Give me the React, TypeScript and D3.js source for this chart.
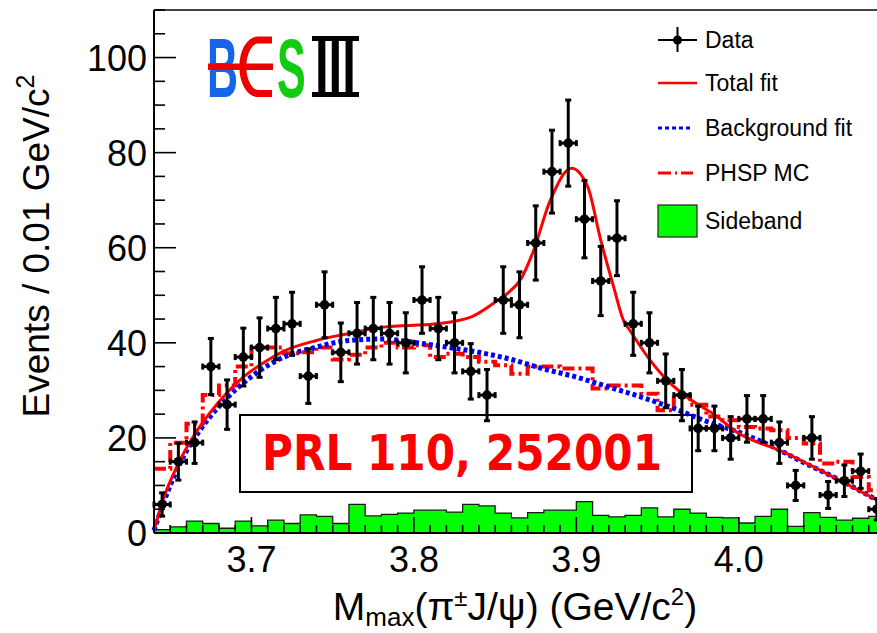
import React from "react";
import * as d3 from "d3";

// ---- data ----
const massBins = [
  3.645, 3.655, 3.665, 3.675, 3.685, 3.695, 3.705, 3.715, 3.725, 3.735,
  3.745, 3.755, 3.765, 3.775, 3.785, 3.795, 3.805, 3.815, 3.825, 3.835,
  3.845, 3.855, 3.865, 3.875, 3.885, 3.895, 3.905, 3.915, 3.925, 3.935,
  3.945, 3.955, 3.965, 3.975, 3.985, 3.995, 4.005, 4.015, 4.025, 4.035,
  4.045, 4.055, 4.065, 4.075, 4.085,
];
const binWidth = 0.01;
const dataCounts = [
  6, 15, 19, 35, 27, 37, 39, 43, 44, 33,
  48, 38, 42, 43, 42, 40, 49, 43, 40, 34,
  29, 49, 48, 61, 76, 82, 66, 53, 62, 44,
  40, 32, 29, 22, 22, 20, 24, 24, 19, 10,
  20, 8, 11, 13, 5,
];
const phspCounts = [
  13.5, 19, 23, 29, 31, 35, 39, 39, 37.8, 38,
  39, 36.5, 37.5, 39, 40, 39, 39.5, 37, 37.7, 37,
  36, 35.3, 33.5, 35, 35, 34.6, 34.6, 30.4, 31, 31,
  29.3, 25.8, 29, 27, 24.5, 23.7, 22.3, 22, 21.6, 20,
  18.8, 14.6, 15, 11.8, 9,
];
const sidebandCounts = [
  0.7, 1.3, 2.5, 2, 1, 2.5, 1.5, 2.7, 2, 3.8,
  3.5, 2, 6, 3.6, 3.9, 4.2, 4.8, 4.8, 4.4, 6,
  5.7, 4.2, 3.2, 4.3, 4.8, 4.8, 6.6, 3.7, 3.4, 3.7,
  5.3, 3.4, 5, 4.2, 3.3, 3.2, 2.1, 3.5, 5, 1.4,
  4.3, 3.3, 2.7, 3.1, 3.5,
];
const totalFitX = [
  3.64, 3.6455, 3.655, 3.664, 3.679, 3.695, 3.707, 3.719, 3.74, 3.756,
  3.781, 3.814, 3.835, 3.849, 3.858, 3.866, 3.873, 3.884, 3.897, 3.907,
  3.915, 3.923, 3.929, 3.933, 3.944, 3.956, 3.968, 3.987, 3.997, 4.027,
  4.058, 4.09,
];
const totalFitY = [
  0.5, 6.9, 14.6, 20.2, 27.2, 32.8, 35.7, 38.1, 40.5, 41.7,
  43.3, 44, 45.4, 48.3, 50.5, 53.5, 58.8, 70, 76.7, 72.8,
  61.6, 51.7, 44.7, 42.6, 37, 32.1, 28.6, 24.4, 21.6, 17.1,
  11.8, 6,
];
const bkgFitX = [
  3.64, 3.6455, 3.658, 3.668, 3.68, 3.7, 3.72, 3.74, 3.76, 3.78,
  3.8, 3.82, 3.84, 3.86, 3.88, 3.9, 3.92, 3.94, 3.96, 3.98,
  4.0, 4.02, 4.04, 4.06, 4.09,
];
const bkgFitY = [
  0.5, 6, 16, 21.5, 26.6, 32.9, 37, 39.1, 40.5, 40.8,
  40.1, 39.1, 38, 36.5, 34.5, 32.8, 30.7, 28.6, 26.2, 23.5,
  21.2, 18.3, 14.8, 11.5, 6,
];
const yTicks = [0, 20, 40, 60, 80, 100];
const xTicks = [3.7, 3.8, 3.9, 4.0];
const legendLabels = ["Data", "Total fit", "Background fit", "PHSP MC", "Sideband"];
const stampText = "PRL 110, 252001";

const W = 877;
const H = 633;
const FONT = "'Liberation Sans', Arial, Helvetica, sans-serif";

export default function App() {
  const x = d3.scaleLinear().domain([3.64, 4.09]).range([154, 885]);
  const y = d3.scaleLinear().domain([0, 110]).range([533, 10]);
  const x0 = x(3.64);
  const y0 = y(0);

  const lineLin = d3.line<[number, number]>().x((d) => x(d[0])).y((d) => y(d[1]));
  const smooth = d3
    .line<[number, number]>()
    .x((d) => x(d[0]))
    .y((d) => y(d[1]))
    .curve(d3.curveMonotoneX);

  const stepPts = (vals: number[]) => {
    const pts: [number, number][] = [];
    vals.forEach((v, i) => {
      pts.push([massBins[i] - binWidth / 2, v]);
      pts.push([massBins[i] + binWidth / 2, v]);
    });
    return pts;
  };

  const sbPts = stepPts(sidebandCounts);
  const sbArea = d3
    .area<[number, number]>()
    .x((d) => x(d[0]))
    .y0(y0)
    .y1((d) => y(d[1]));

  const totalPath = smooth(totalFitX.map((v, i) => [v, totalFitY[i]] as [number, number]));
  const bkgPath = smooth(bkgFitX.map((v, i) => [v, bkgFitY[i]] as [number, number]));
  const phspPath = lineLin(stepPts(phspCounts));

  const xMinor = d3.range(0, 46).map((i) => 3.64 + i * 0.01);
  const yMinor = d3.range(0, 23).map((i) => i * 5);

  const legX1 = 658;
  const legX2 = 697;
  const legTextX = 705;
  const legY = [40, 83, 128, 173, 221];
  const logoFont = "'Liberation Sans', Arial, sans-serif";

  return (
    <svg
      width={W}
      height={H}
      style={{ position: "absolute", left: 0, top: 0, background: "#fff" }}
      fontFamily={FONT}
    >
      <rect x={0} y={0} width={W} height={H} fill="#fff" />

      {/* stamp box */}
      <rect x={240} y={415} width={452} height={77} fill="#fff" stroke="#000" strokeWidth={2} />
      <text
        x={262}
        y={470}
        fontFamily="'DejaVu Sans', sans-serif"
        fontWeight="bold"
        fontSize={50}
        fill="#ff0000"
        textLength={400}
        lengthAdjust="spacingAndGlyphs"
      >
        {stampText}
      </text>

      {/* sideband histogram */}
      <path d={sbArea(sbPts) || ""} fill="#00ff00" stroke="none" />
      <path d={lineLin(sbPts) || ""} fill="none" stroke="#1a1a1a" strokeWidth={1.3} />

      {/* curves */}
      <path d={phspPath || ""} fill="none" stroke="#ff0000" strokeWidth={4} strokeDasharray="12,4,3,4" />
      <path d={bkgPath || ""} fill="none" stroke="#0000ff" strokeWidth={5} strokeDasharray="4,3" />
      <path d={totalPath || ""} fill="none" stroke="#ff0000" strokeWidth={3} />

      {/* data points */}
      <g stroke="#000" strokeWidth={3}>
        {massBins.map((m, i) => {
          const v = dataCounts[i];
          const e = Math.sqrt(v);
          const cx = x(m);
          const cy = y(v);
          const yt = y(v + e);
          const yb = y(Math.max(0, v - e));
          const xl = x(m - binWidth / 2);
          const xr = x(m + binWidth / 2);
          return (
            <g key={i}>
              <line x1={cx} x2={cx} y1={yt} y2={yb} />
              <line x1={cx - 3} x2={cx + 3} y1={yt} y2={yt} />
              <line x1={cx - 3} x2={cx + 3} y1={yb} y2={yb} />
              <line x1={xl} x2={xr} y1={cy} y2={cy} />
              <line x1={xl} x2={xl} y1={cy - 3} y2={cy + 3} />
              <line x1={xr} x2={xr} y1={cy - 3} y2={cy + 3} />
              <circle cx={cx} cy={cy} r={4.8} fill="#000" stroke="none" />
            </g>
          );
        })}
      </g>

      {/* frame and axes */}
      <g stroke="#000" strokeWidth={2} fill="none">
        <line x1={x0} x2={x0} y1={y(110)} y2={y0} />
        <line x1={x0} x2={W} y1={y0} y2={y0} />
        <line x1={x0} x2={W} y1={y(110)} y2={y(110)} stroke="#444" />
      </g>
      <g stroke="#000" strokeWidth={1.6}>
        {yMinor.map((v) => (
          <line key={"ym" + v} x1={x0} x2={x0 + (v % 20 === 0 ? 22 : 11)} y1={y(v)} y2={y(v)} />
        ))}
        {xMinor.map((v, i) => {
          const major = xTicks.some((t) => Math.abs(t - v) < 1e-6);
          return <line key={"xm" + i} x1={x(v)} x2={x(v)} y1={y0} y2={y0 - (major ? 16 : 8)} />;
        })}
      </g>

      {/* tick labels */}
      <g fontSize={36} fill="#000">
        {yTicks.map((v) => (
          <text key={"yl" + v} x={147} y={y(v) + 13} textAnchor="end">
            {v}
          </text>
        ))}
        {xTicks.map((v) => (
          <text key={"xl" + v} x={x(v)} y={572} textAnchor="middle">
            {v.toFixed(1)}
          </text>
        ))}
      </g>

      {/* axis titles */}
      <text
        transform={`translate(49,246) rotate(-90)`}
        textAnchor="middle"
        fontSize={37}
        fill="#000"
      >
        Events / 0.01 GeV/c<tspan dy={-15} fontSize={25}>2</tspan>
      </text>
      <text x={515} y={620} textAnchor="middle" fontSize={39} fill="#000">
        M<tspan dy={6} fontSize={26}>max</tspan>
        <tspan dy={-6}>(π</tspan>
        <tspan dy={-14} fontSize={24}>±</tspan>
        <tspan dy={14}>J/ψ) (GeV/c</tspan>
        <tspan dy={-15} fontSize={24}>2</tspan>
        <tspan dy={15}>)</tspan>
      </text>

      {/* BESIII logo */}
      <g fontFamily={logoFont} fontWeight="bold">
        <path
          d="M272,40 L258,40 A15,26.5 0 0 0 258,93.5 L272,93.5"
          fill="none"
          stroke="#ee0000"
          strokeWidth={7}
        />
        <text transform="translate(207,97) scale(1,1.95)" fontSize={43} fill="#1565e6">
          B
        </text>
        <text transform="translate(277,97) scale(1,1.95)" fontSize={43} fill="#11cc11">
          S
        </text>
        <text transform="translate(315,97) scale(1,1.72)" fontSize={49} fill="#000">
          III
        </text>
        <line x1={208} x2={273} y1={66.7} y2={66.7} stroke="#ee0000" strokeWidth={6.5} />
        <rect x={312} y={36} width={47} height={5} fill="#000" />
        <rect x={312} y={92} width={47} height={5} fill="#000" />
      </g>

      {/* legend */}
      <g>
        <line x1={legX1} x2={legX2} y1={legY[0]} y2={legY[0]} stroke="#000" strokeWidth={2} />
        <line x1={(legX1 + legX2) / 2} x2={(legX1 + legX2) / 2} y1={legY[0] - 13} y2={legY[0] + 12} stroke="#000" strokeWidth={2} />
        <circle cx={(legX1 + legX2) / 2} cy={legY[0]} r={4.5} fill="#000" />
        <line x1={legX1} x2={legX2} y1={legY[1]} y2={legY[1]} stroke="#ff0000" strokeWidth={2.5} />
        <line x1={legX1} x2={legX2 - 4} y1={legY[2]} y2={legY[2]} stroke="#0000ff" strokeWidth={3} strokeDasharray="4,3" />
        <line x1={legX1} x2={legX2 - 4} y1={legY[3]} y2={legY[3]} stroke="#ff0000" strokeWidth={3} strokeDasharray="13,4,2,4" />
        <rect x={658} y={205} width={39} height={32} fill="#00ff00" stroke="#222" strokeWidth={1.2} />
        {legendLabels.map((t, i) => (
          <text key={t} x={legTextX} y={legY[i] + 8} fontSize={23} fill="#000">
            {t}
          </text>
        ))}
      </g>
    </svg>
  );
}
